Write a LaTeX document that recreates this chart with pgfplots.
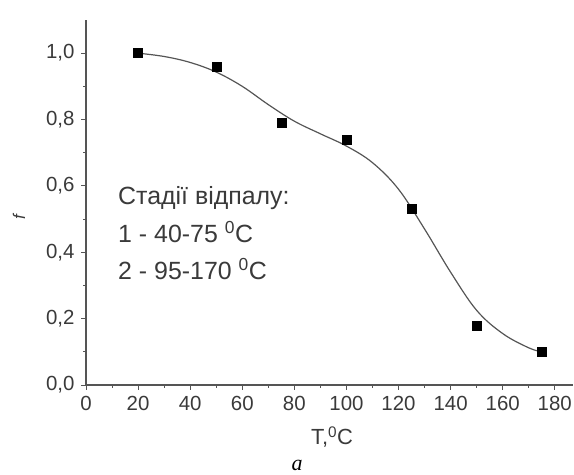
\documentclass[border=0pt]{standalone}
\usepackage{pgfplots}
\pgfplotsset{compat=1.18}
\usepackage{fontspec}
\setmainfont{Liberation Sans}
\newfontfamily\serifit{Liberation Serif}
\definecolor{txt}{HTML}{3A3A3A}
\definecolor{crv}{HTML}{555555}
\begin{document}
\begin{tikzpicture}[x=1bp,y=1bp]
\path[use as bounding box] (0,0) rectangle (574,475);
\begin{axis}[
  at={(86bp,90bp)}, anchor=origin,
  scale only axis, width=487bp, height=365bp,
  xmin=0, xmax=187, ymin=0, ymax=1.1,
  axis x line=bottom, axis y line=left,
  axis line style={-, color=crv, line width=1.1pt},
  xtick={0,20,...,180}, ytick={0,0.2,...,1.0},
  minor xtick={10,30,...,170}, minor ytick={0.1,0.3,...,0.9},
  tick align=outside,
  major tick length=5bp, minor tick length=3bp,
  tick style={color=crv, line width=0.9pt},
  ticklabel style={font=\fontsize{20.5}{23}\selectfont, color=txt},
  yticklabel style={xshift=-3bp},
  xticklabel style={yshift=-3bp},
  /pgf/number format/assume math mode=true,
  yticklabel style={/pgf/number format/.cd, fixed, fixed zerofill, precision=1, use comma},
  xticklabel style={/pgf/number format/.cd, fixed, precision=0},
  clip=false,
]
\addplot[crv, line width=1.2pt, smooth, tension=0.6] coordinates {
(20,1.0)(30,0.99)(40,0.972)(50,0.943)(60,0.90)(70,0.845)(80,0.795)(90,0.757)(100,0.72)(110,0.67)(120,0.59)(130,0.47)(140,0.34)(150,0.225)(160,0.155)(170,0.112)(175,0.10)
};
\addplot[only marks, mark=square*, mark size=4.5bp, black] coordinates {
(20,1.0)(50,0.96)(75,0.79)(100,0.74)(125,0.53)(150,0.18)(175,0.10)
};
\end{axis}
\node[anchor=base west, txt, font=\fontsize{25}{28}\selectfont, inner sep=0] at (118,270) {Стадії відпалу:};
\node[anchor=base west, txt, font=\fontsize{25}{28}\selectfont, inner sep=0] at (118,232) {1 - 40-75 \textsuperscript{0}C};
\node[anchor=base west, txt, font=\fontsize{25}{28}\selectfont, inner sep=0] at (118,195) {2 - 95-170 \textsuperscript{0}C};
\node[txt, rotate=90, font=\fontsize{17}{18}\selectfont\itshape] at (19,258) {f};
\node[txt, font=\fontsize{22}{24}\selectfont] at (332,38) {T,\textsuperscript{0}C};
\node[black, font=\fontsize{22}{24}\selectfont\serifit\itshape, anchor=base] at (297,4) {a};
\end{tikzpicture}
\end{document}
